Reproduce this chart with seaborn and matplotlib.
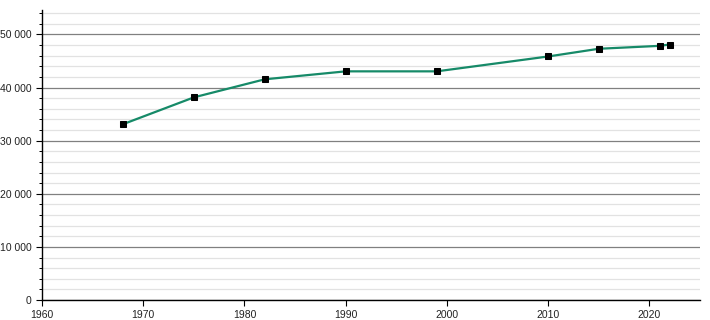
import matplotlib
matplotlib.use("Agg")
import matplotlib.pyplot as plt
import seaborn as sns
import pandas as pd
from matplotlib.ticker import MultipleLocator, FuncFormatter

years = [1968, 1975, 1982, 1990, 1999, 2010, 2015, 2021, 2022]
population = [33100, 38150, 41550, 43050, 43050, 45850, 47300, 47850, 48100]
x_ticks = [1960, 1970, 1980, 1990, 2000, 2010, 2020]

df = pd.DataFrame({"year": years, "pop": population})

sns.set_style("white")
plt.rcParams['font.family'] = ['Liberation Sans', 'DejaVu Sans']

fig = plt.figure(figsize=(7.1, 3.2), dpi=100)
ax = fig.add_axes([42/710, 20/320, 658/710, 290/320])

ax.set_xlim(1960, 2025)
ax.set_ylim(0, 54600)

ax.yaxis.set_major_locator(MultipleLocator(10000))
ax.yaxis.set_minor_locator(MultipleLocator(2000))
ax.set_xticks(x_ticks)
ax.yaxis.set_major_formatter(FuncFormatter(lambda v, p: f"{int(v):,}".replace(",", " ")))

ax.grid(which="minor", axis="y", color="#e2e2e2", linewidth=0.9)
ax.grid(which="major", axis="y", color="#808080", linewidth=0.9)
ax.set_axisbelow(True)

sns.lineplot(data=df, x="year", y="pop", ax=ax, color="#168a68", linewidth=1.6,
             marker="s", markersize=3.8, markerfacecolor="black", markeredgecolor="black")

for s in ["top", "right"]:
    ax.spines[s].set_visible(False)
for s in ["left", "bottom"]:
    ax.spines[s].set_color("black")
    ax.spines[s].set_linewidth(1.0)

ax.tick_params(axis="both", which="major", direction="out", length=4, width=0.8,
               color="black", labelsize=7.5, labelcolor="#222222", left=True, bottom=True)
ax.tick_params(axis="y", which="minor", direction="out", length=2.5, width=0.7, color="black", left=True)
ax.set_xlabel("")
ax.set_ylabel("")

fig.savefig("out.png", dpi=100)
